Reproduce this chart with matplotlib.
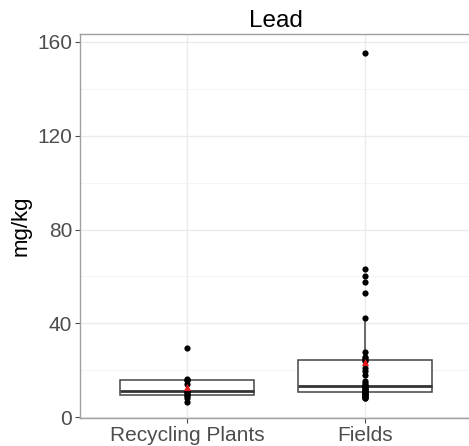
import numpy as np
import matplotlib
matplotlib.use("Agg")
import matplotlib.pyplot as plt
from matplotlib.ticker import MultipleLocator

plt.rcParams['font.family'] = ['Liberation Sans', 'DejaVu Sans']

# lead concentrations (mg/kg)
groups = ["Recycling Plants", "Fields"]
recycling = [6.5, 8.2, 8.8, 9.4, 10.2, 10.9, 11.3, 14.0, 15.6, 16.0, 16.2, 29.3]
fields = [8.0, 8.3, 8.7, 9.0, 9.2, 9.6, 9.9, 10.0, 10.2, 10.5, 10.6, 10.9,
          11.0, 11.3, 11.6, 12.0, 12.4, 12.7, 13.1, 13.3, 13.2, 13.8, 14.6,
          15.5, 17.9, 19.5, 20.8, 23.8, 24.5, 25.0, 25.7, 27.6, 42.4, 52.9,
          57.5, 60.2, 63.1, 155.5]
data = [recycling, fields]

fig = plt.figure(figsize=(4.69, 4.46), dpi=100)
ax = fig.add_axes([80 / 469, 28 / 446, 392 / 469, 384 / 446])

pos = np.arange(1, len(groups) + 1)
ax.boxplot(data, positions=pos, widths=0.75, showfliers=False,
           patch_artist=True, zorder=2,
           boxprops=dict(facecolor="white", edgecolor="#444444", linewidth=1.1),
           medianprops=dict(color="#333333", linewidth=2.0),
           whiskerprops=dict(color="#444444", linewidth=1.1),
           capprops=dict(linewidth=0))

for p, vals in zip(pos, data):
    ax.scatter(np.full(len(vals), p), vals, s=20, color="black", zorder=3,
               linewidths=0)
    ax.scatter([p], [np.mean(vals)], s=26, marker="^", color="#E41A1C",
               zorder=4, linewidths=0)

ax.set_xlim(0.4, 2.6)
ax.set_ylim(-0.4, 163.4)
ax.set_xticks(pos)
ax.set_xticklabels(groups)
ax.yaxis.set_major_locator(MultipleLocator(40))
ax.yaxis.set_minor_locator(MultipleLocator(20))

ax.grid(True, which="major", color="#EBEBEB", linewidth=1.0, zorder=0)
ax.grid(True, which="minor", axis="y", color="#F3F3F3", linewidth=0.6, zorder=0)
ax.set_axisbelow(True)

for sp in ax.spines.values():
    sp.set_color("#A0A0A0")
    sp.set_linewidth(1.0)

ax.tick_params(axis="both", which="major", labelsize=15, colors="#4D4D4D",
               length=3.5, width=0.8, pad=2)
ax.tick_params(axis="y", which="minor", length=0)
ax.set_ylabel("mg/kg", fontsize=16, color="black", labelpad=4)
ax.set_title("Lead", fontsize=17.5, color="black", pad=5)

fig.savefig("out.png", dpi=100)
